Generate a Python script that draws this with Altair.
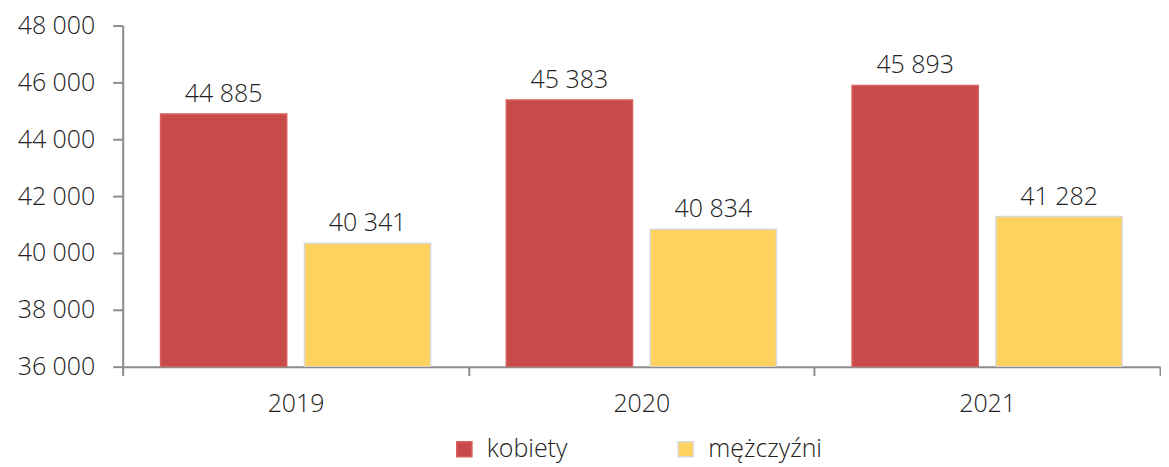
import altair as alt
import pandas as pd

years = ["2019", "2020", "2021"]
groups = ["kobiety", "mężczyźni"]
kobiety = [44885, 45383, 45893]
mezczyzni = [40341, 40834, 41282]

rows = []
for i, y in enumerate(years):
    rows.append({"rok": y, "plec": groups[0], "wartosc": kobiety[i]})
    rows.append({"rok": y, "plec": groups[1], "wartosc": mezczyzni[i]})
df = pd.DataFrame(rows)

FONT = "Open Sans"
FW = 300
fill_scale = alt.Scale(domain=groups, range=["#C84B49", "#FFD15F"])
stroke_scale = alt.Scale(domain=groups, range=["#D95F5C", "#D9D9D9"])
leg = alt.Legend(title=None, orient="none", legendX=330, legendY=412,
                 direction="horizontal",
                 symbolType="square", symbolSize=230, symbolStrokeWidth=1.5,
                 labelFontSize=25, labelFont=FONT, labelFontWeight=FW,
                 labelColor="#222222", columnPadding=106, symbolOffset=0,
                 labelOffset=10)

base = alt.Chart(df).encode(
    x=alt.X("rok:N", title=None, sort=years,
            scale=alt.Scale(paddingInner=0, paddingOuter=0),
            axis=alt.Axis(labelAngle=0, tickBand="extent", ticks=True, tickSize=9,
                          labelFontSize=25, labelFont=FONT, labelFontWeight=FW,
                          labelColor="#222222", labelPadding=16,
                          domainColor="#8C8C8C", tickColor="#8C8C8C",
                          domainWidth=2, tickWidth=2, grid=False)),
    xOffset=alt.XOffset("plec:N", sort=groups,
                        scale=alt.Scale(paddingInner=0.123, paddingOuter=0.263)),
)

yscale = alt.Scale(domain=[36000, 48000], zero=False, nice=False)

bars = base.mark_bar(strokeWidth=1.5, clip=True).encode(
    y=alt.Y("wartosc:Q", title=None, scale=yscale,
            axis=alt.Axis(values=list(range(36000, 48001, 2000)), tickSize=10,
                          labelExpr="replace(format(datum.value, ',d'), ',', ' ')",
                          labelFontSize=25, labelFont=FONT, labelFontWeight=FW,
                          labelColor="#222222", labelPadding=18,
                          domainColor="#8C8C8C", tickColor="#8C8C8C",
                          domainWidth=2, tickWidth=2, grid=False)),
    y2=alt.datum(36000),
    fill=alt.Fill("plec:N", scale=fill_scale, sort=groups, legend=leg),
    stroke=alt.Stroke("plec:N", scale=stroke_scale, sort=groups, legend=leg),
)

text = base.transform_calculate(
    lab="replace(format(datum.wartosc, ',d'), ',', ' ')"
).mark_text(baseline="bottom", dy=-7, fontSize=25, font=FONT, fontWeight=FW,
            color="#222222").encode(
    y=alt.Y("wartosc:Q", scale=yscale),
    text="lab:N",
)

chart = (bars + text).properties(
    width=1040, height=342,
    padding={"top": 5, "left": 9, "right": 0, "bottom": 0},
).configure_view(stroke=None)

chart.save("out.html", embed_options={"renderer": "svg", "actions": False})
